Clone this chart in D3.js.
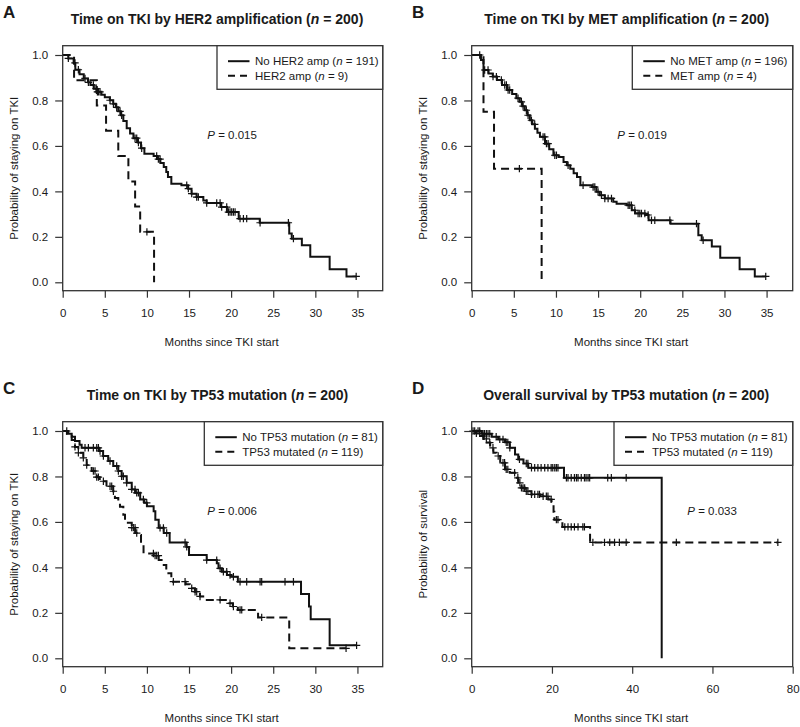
<!DOCTYPE html>
<html><head><meta charset="utf-8">
<script src="https://cdn.jsdelivr.net/npm/d3@7"></script>
<style>
body{margin:0;background:#fff}
text{font-family:"Liberation Sans",Arial,Helvetica,sans-serif;fill:#1a1a1a}
</style>
</head><body>
<svg id="chart" width="800" height="727"></svg>
<script>
// ---------------- DATA ----------------
// Panel A: time on TKI by HER2 amplification
const aNoTimes = [0,0.67,1.3,1.5,2.0,2.5,3.0,3.3,3.7,4.1,4.6,5.0,5.6,6.0,6.3,6.6,6.9,7.2,7.6,8.0,8.4,8.9,9.3,9.7,10.8,11.2,11.6,12.0,12.3,12.5,12.9,14.1,14.9,15.3,15.9,16.7,17.1,18.8,19.5,20.9,23.4,26.9,27.2,28.4,29.4,31.7,33.7];
const aNoSurv  = [1,0.985,0.965,0.935,0.915,0.897,0.88,0.868,0.852,0.838,0.825,0.814,0.801,0.785,0.77,0.752,0.735,0.71,0.678,0.655,0.634,0.615,0.59,0.566,0.556,0.542,0.525,0.507,0.485,0.463,0.434,0.427,0.412,0.39,0.375,0.36,0.349,0.331,0.309,0.28,0.262,0.215,0.192,0.163,0.112,0.057,0.026];
const aNoCens  = [0.67,1.46,1.86,2.65,3.05,3.64,3.96,4.12,4.24,4.43,5.62,6.02,6.41,6.81,7.0,8.59,8.79,8.99,9.38,11.16,11.36,11.56,14.73,14.92,15.32,15.91,16.11,17.1,18.29,18.69,18.88,19.48,19.68,19.87,20.07,20.27,20.47,21.06,21.46,21.85,23.44,26.8,27.4,34.85];
const aAmpTimes = [0,1.35,4.05,5.15,6.6,7.8,8.6,9.2,10.85];
const aAmpSurv  = [1,0.889,0.778,0.667,0.556,0.444,0.333,0.222,0];
const aAmpCens  = [10.0];

// Panel B: time on TKI by MET amplification
const bNoTimes = [0,1.1,1.4,2.0,2.5,3.0,3.6,4.2,4.8,5.3,5.7,6.0,6.3,6.6,6.9,7.2,7.5,7.8,8.1,8.7,9.2,9.7,10.3,10.9,11.3,11.7,12.1,12.5,12.9,14.3,14.8,15.2,15.8,16.8,17.2,18.4,19.0,19.4,20.6,21.0,23.6,26.9,27.3,28.5,29.5,31.8,33.6];
const bNoSurv  = [1,0.978,0.934,0.919,0.905,0.89,0.868,0.846,0.828,0.81,0.794,0.775,0.757,0.735,0.713,0.695,0.676,0.658,0.64,0.61,0.585,0.559,0.551,0.529,0.515,0.5,0.48,0.463,0.427,0.419,0.398,0.383,0.369,0.354,0.346,0.339,0.317,0.303,0.296,0.273,0.258,0.207,0.185,0.158,0.108,0.057,0.026];
const bNoCens  = [0.95,1.54,1.94,2.53,2.93,3.52,3.92,4.12,4.32,4.51,5.5,5.9,6.1,6.49,6.69,7.09,7.48,8.47,8.67,8.87,9.07,9.86,10.06,11.44,13.22,14.41,14.61,15.0,15.4,15.8,16.19,16.59,18.57,18.76,18.96,19.36,19.75,19.95,20.15,20.55,20.94,21.34,21.73,23.52,26.68,27.47,34.9];
const bAmpTimes = [0,1.4,2.65,8.3];
const bAmpSurv  = [1,0.75,0.5,0];
const bAmpCens  = [5.66];

// Panel C: time on TKI by TP53 mutation
const cWtTimes = [0,0.5,1.07,1.46,2.0,2.25,4.3,4.8,5.4,6.0,6.6,7.0,7.6,8.2,8.6,9.2,9.7,10.0,10.8,11.0,11.4,12.0,12.7,14.7,15.0,17.1,18.3,18.5,18.9,19.5,20.0,20.8,28.3,29.25,29.45,31.7];
const cWtSurv  = [1,0.988,0.975,0.956,0.94,0.926,0.912,0.89,0.868,0.846,0.824,0.801,0.772,0.743,0.728,0.699,0.684,0.669,0.647,0.61,0.574,0.551,0.51,0.49,0.454,0.432,0.418,0.396,0.381,0.366,0.359,0.337,0.283,0.228,0.172,0.057];
const cWtCens  = [0.48,2.65,3.05,3.64,4.04,4.24,4.43,4.83,5.62,6.41,6.61,7.0,7.2,7.6,8.2,8.59,8.79,8.99,9.58,9.98,11.56,11.96,12.35,14.53,14.73,17.1,18.29,18.69,19.08,19.48,19.87,20.27,21.06,21.85,23.44,23.63,26.4,27.4,34.9];
const cMutTimes = [0,0.67,1.07,1.46,1.86,2.45,2.85,3.44,4.04,4.4,5.2,6.0,6.2,6.6,6.8,7.2,7.4,8.2,8.6,9.0,9.3,9.6,10.8,11.4,12.0,12.3,12.9,14.6,15.1,15.7,16.3,16.9,19.5,20.2,20.8,23.2,26.9];
const cMutSurv  = [1,0.985,0.96,0.93,0.904,0.882,0.85,0.824,0.797,0.779,0.757,0.735,0.705,0.69,0.667,0.632,0.596,0.575,0.551,0.542,0.5,0.461,0.452,0.432,0.41,0.374,0.337,0.326,0.308,0.293,0.272,0.257,0.242,0.228,0.213,0.18,0.044];
const cMutCens  = [1.46,1.86,2.45,2.85,3.64,3.84,4.04,4.24,4.83,5.62,5.82,6.02,8.2,8.39,8.59,8.79,10.77,10.97,11.16,11.36,13.14,14.53,15.32,15.72,15.91,16.31,18.69,19.87,20.27,21.06,21.26,23.63,33.65];

// Panel D: overall survival by TP53 mutation
const dWtTimes = [0,2.5,5.0,6.6,8.3,9.5,10.8,11.6,12.9,14.1,23.0,47.35];
const dWtSurv  = [1,0.988,0.975,0.963,0.95,0.926,0.897,0.875,0.857,0.838,0.794,0];
const dWtCens  = [0.75,1.58,2.0,2.8,3.2,3.65,4.07,4.5,6.1,7.0,7.8,8.6,9.0,9.5,11.9,13.6,14.0,14.9,15.7,16.5,17.3,18.2,19.0,19.8,20.2,20.7,21.1,21.5,23.6,24.0,24.8,25.6,26.1,26.5,27.3,28.1,28.5,29.0,29.4,33.9,34.8,38.5];
const dMutTimes = [0,1.0,2.1,3.0,3.7,4.6,5.4,6.2,7.1,8.3,9.5,10.8,11.6,12.4,13.3,14.9,17.0,19.1,19.9,20.4,20.6,22.6,29.5];
const dMutSurv  = [1,0.99,0.978,0.965,0.949,0.926,0.904,0.89,0.86,0.831,0.816,0.794,0.772,0.75,0.735,0.721,0.713,0.699,0.684,0.645,0.61,0.578,0.51];
const dMutCens  = [0.33,1.16,2.0,2.8,3.65,4.5,5.3,6.6,7.8,8.2,8.6,9.0,10.7,11.5,12.0,12.4,12.8,13.2,13.6,14.0,14.9,15.7,16.5,16.9,17.8,18.6,19.0,19.8,21.1,21.5,23.2,24.0,24.8,25.6,26.5,27.7,28.1,30.2,33.1,34.4,35.6,36.8,38.5,51.0,76.3];

// Labels and ticks
const panelLetters = ["A","B","C","D"];
const titlePrefixes = ["Time on TKI by HER2 amplification (","Time on TKI by MET amplification (","Time on TKI by TP53 mutation (","Overall survival by TP53 mutation ("];
const titleN = [200,200,200,200];
const groupNamesA = ["No HER2 amp","HER2 amp"];
const groupNamesB = ["No MET amp","MET amp"];
const groupNamesC = ["No TP53 mutation","TP53 mutated"];
const groupNamesD = ["No TP53 mutation","TP53 mutated"];
const groupNA = [191,9], groupNB = [196,4], groupNC = [81,119], groupND = [81,119];
const pValues = ["0.015","0.019","0.006","0.033"];
const yTitles = ["Probability of staying on TKI","Probability of staying on TKI","Probability of staying on TKI","Probability of survival"];
const xTitle = "Months since TKI start";
const xTicksTKI = [0,5,10,15,20,25,30,35];
const xTicksOS = [0,20,40,60,80];
const yTicks = [0,0.2,0.4,0.6,0.8,1.0];

// ---------------- LAYOUT ----------------
const svg = d3.select("#chart");
const layouts = [
  {left:62.7, right:382.7, top:45.7, xMax:38, ticks:xTicksTKI, letterX:3, titleX:217, legLeft:217, pX:207.3,
   series:[[aNoTimes,aNoSurv,aNoCens],[aAmpTimes,aAmpSurv,aAmpCens]], names:groupNamesA, ns:groupNA},
  {left:471.7, right:792.7, top:45.7, xMax:38.1, ticks:xTicksTKI, letterX:412, titleX:626.7, legLeft:632.3, pX:617.3,
   series:[[bNoTimes,bNoSurv,bNoCens],[bAmpTimes,bAmpSurv,bAmpCens]], names:groupNamesB, ns:groupNB},
  {left:62.7, right:382.7, top:421.7, xMax:38, ticks:xTicksTKI, letterX:3, titleX:217.5, legLeft:204.3, pX:207.3,
   series:[[cWtTimes,cWtSurv,cWtCens],[cMutTimes,cMutSurv,cMutCens]], names:groupNamesC, ns:groupNC},
  {left:471.7, right:792.7, top:421.7, xMax:80, ticks:xTicksOS, letterX:412, titleX:626.2, legLeft:614, pX:687.3,
   series:[[dWtTimes,dWtSurv,dWtCens],[dMutTimes,dMutSurv,dMutCens]], names:groupNamesD, ns:groupND}
];
const H = 245;
const dashes = [null, "8,5"];

function survAt(times, surv, t){
  let v = surv[0];
  for (let i=0;i<Math.min(times.length,surv.length);i++){ if (times[i] <= t + 1e-9) v = surv[i]; }
  return v;
}

layouts.forEach((L, k) => {
  const bottom = L.top + H;
  const g = svg.append("g");
  const x = d3.scaleLinear().domain([0, L.xMax]).range([L.left, L.right]);
  const y = d3.scaleLinear().domain([0, 1]).range([bottom - 8.4, L.top + 9.3]);

  // letter
  g.append("text").attr("x", L.letterX).attr("y", L.top - 27.3)
    .attr("font-size", 17).attr("font-weight", "bold").text(panelLetters[k]);
  // title
  const tt = g.append("text").attr("x", L.titleX).attr("y", L.top - 21.8)
    .attr("text-anchor", "middle").attr("font-size", 14).attr("font-weight", "bold");
  tt.append("tspan").text(titlePrefixes[k]);
  tt.append("tspan").attr("font-style", "italic").text("n");
  tt.append("tspan").text(" = " + titleN[k] + ")");

  // axes
  const xa = g.append("g").attr("transform", `translate(0,${bottom})`)
    .call(d3.axisBottom(x).tickValues(L.ticks).tickSize(7).tickPadding(11.5).tickSizeOuter(0));
  const ya = g.append("g").attr("transform", `translate(${L.left},0)`)
    .call(d3.axisLeft(y).tickValues(yTicks).tickFormat(d3.format(".1f")).tickSize(7.5).tickPadding(7).tickSizeOuter(0));
  [xa, ya].forEach(a => {
    a.select(".domain").remove();
    a.selectAll(".tick line").attr("stroke", "#333").attr("stroke-width", 1.2);
    a.selectAll(".tick text").attr("font-size", 11.5).attr("fill", "#1a1a1a")
      .style("font-family", '"Liberation Sans",Arial,sans-serif');
  });

  // axis titles
  g.append("text").attr("x", (L.left + L.right)/2 - 1).attr("y", bottom + 55.5)
    .attr("text-anchor", "middle").attr("font-size", 11.5).text(xTitle);
  g.append("text").attr("transform", `translate(${L.left - 44.5},${(L.top + bottom)/2}) rotate(-90)`)
    .attr("text-anchor", "middle").attr("font-size", 11.5).text(yTitles[k]);

  // curves
  L.series.forEach((s, si) => {
    const [times, surv, cens] = s;
    const n = Math.min(times.length, surv.length);
    const pts = d3.range(n).map(i => [times[i], surv[i]]);
    const lastT = d3.max([times[n-1]].concat(cens));
    if (surv[n-1] > 0 && lastT > times[n-1]) pts.push([lastT, surv[n-1]]);
    const line = d3.line().x(d => x(d[0])).y(d => y(d[1])).curve(d3.curveStepAfter);
    const path = g.append("path").attr("d", line(pts)).attr("fill", "none")
      .attr("stroke", "#111").attr("stroke-width", 2);
    if (dashes[si]) path.attr("stroke-dasharray", dashes[si]);
    g.append("g").selectAll("path").data(cens).join("path")
      .attr("d", t => { const cx = x(t), cy = y(survAt(times, surv, t)); return `M${cx-3.7},${cy}h7.4M${cx},${cy-3.7}v7.4`; })
      .attr("stroke", "#111").attr("stroke-width", 1.2).attr("fill", "none");
  });

  // box
  g.append("rect").attr("x", L.left).attr("y", L.top).attr("width", L.right - L.left).attr("height", H)
    .attr("fill", "none").attr("stroke", "#333").attr("stroke-width", 1.3);

  // legend
  g.append("rect").attr("x", L.legLeft).attr("y", L.top).attr("width", L.right - L.legLeft).attr("height", 43.6)
    .attr("fill", "#fff").attr("stroke", "#333").attr("stroke-width", 1.3);
  [0,1].forEach(r => {
    const ry = L.top + 15.5 + r * 14.5;
    const ln = g.append("line").attr("x1", L.legLeft + 11).attr("x2", L.legLeft + 32.5)
      .attr("y1", ry).attr("y2", ry).attr("stroke", "#111").attr("stroke-width", 2);
    if (dashes[r]) ln.attr("stroke-dasharray", "7,5");
    const t = g.append("text").attr("x", L.legLeft + 38).attr("y", ry).attr("dy", "0.36em").attr("font-size", 11.5);
    t.append("tspan").text(L.names[r] + " (");
    t.append("tspan").attr("font-style", "italic").text("n");
    t.append("tspan").text(" = " + L.ns[r] + ")");
  });

  // P value
  const pt = g.append("text").attr("x", L.pX).attr("y", L.top + 89.3 + 4).attr("font-size", 11.5);
  pt.append("tspan").attr("font-style", "italic").text("P");
  pt.append("tspan").text(" = " + pValues[k]);
});
</script>
</body></html>
